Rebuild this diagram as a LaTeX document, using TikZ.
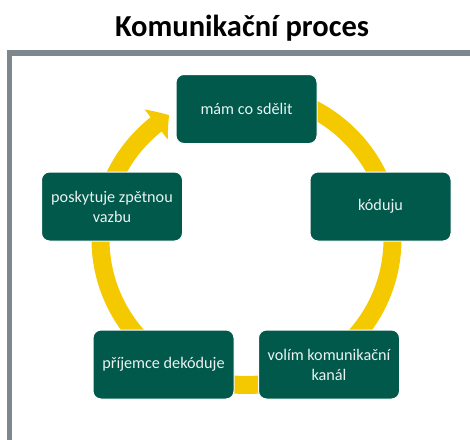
\documentclass[tikz,border=0pt]{standalone}
\usepackage{fontspec}
\setmainfont{Carlito}
\usetikzlibrary{arrows.meta,bending}
\definecolor{tmzel}{HTML}{00594B}
\definecolor{zluta}{HTML}{F5C900}
\definecolor{seda}{HTML}{7F878E}

\begin{document}
\begin{tikzpicture}[x=1pt,y=-1pt,
    krok/.style={draw=white,line width=1pt,fill=tmzel,rounded corners=8pt,
      minimum width=141pt,minimum height=69pt,text=white!92!tmzel,
      align=center,font=\fontsize{16.2}{20}\selectfont}]
    \useasboundingbox (0,0) rectangle (470,439);
    \clip (0,0) rectangle (470,439);

    \node[font=\bfseries\fontsize{30.5}{36}\selectfont] (T) at (242,28) {Komunikační proces};
    \draw[seda,line width=5.5pt] (9.5,500) -- (9.5,53) -- (480,53);

    \coordinate (S) at (246.5,239);
    \draw[zluta,line width=18pt,-{Triangle[length=16pt,width=37pt,bend]}]
      (S) ++(-90:146) arc[start angle=-90,end angle=238,radius=146];

    \node[krok] (A) at (246.5,109) {mám co sdělit};
    \node[krok] (B) at (380.5,206.5) {kóduju};
    \node[krok] (C) at (329,364.5) {volím komunikační\\kanál};
    \node[krok] (D) at (163.5,364.5) {příjemce dekóduje};
    \node[krok] (E) at (112,206.5) {poskytuje zpětnou\\vazbu};
  \end{tikzpicture}
\end{document}
